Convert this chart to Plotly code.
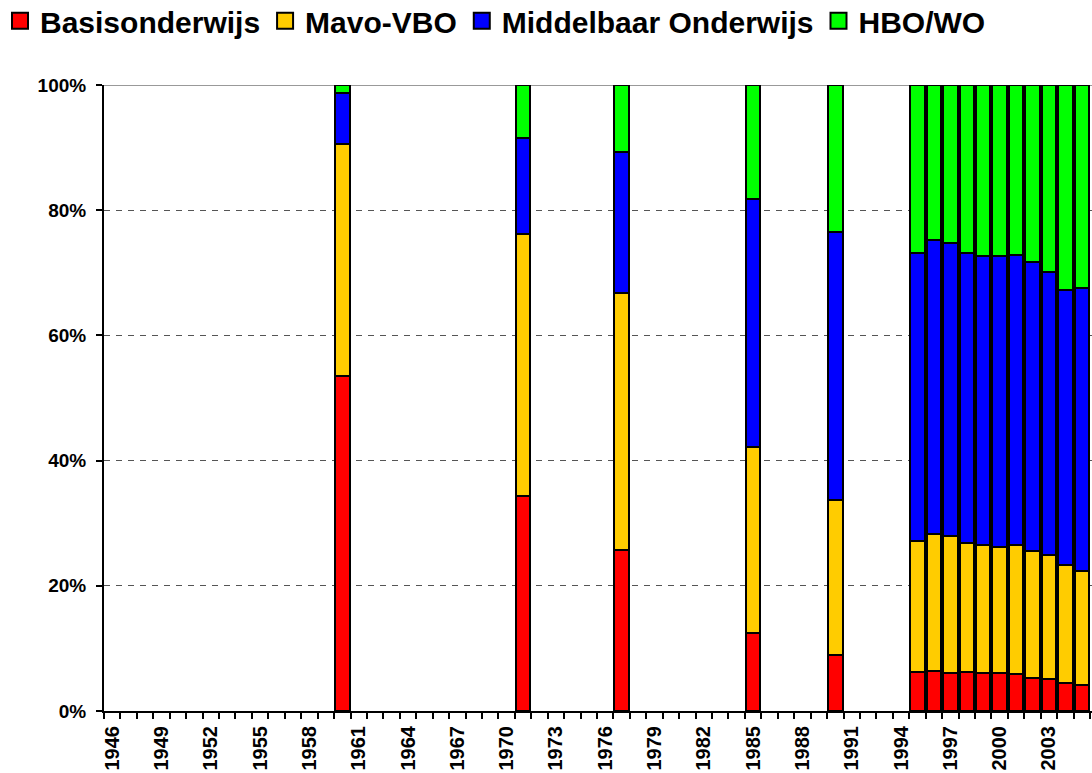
import plotly.graph_objects as go

# share per education level (% of total)
years = [1960, 1971, 1977, 1985, 1990, 1995, 1996, 1997, 1998, 1999, 2000, 2001, 2002, 2003, 2004, 2005]
basis = [53.5, 34.3, 25.7, 12.5, 8.9, 6.2, 6.4, 6.1, 6.2, 6.1, 6.0, 5.9, 5.3, 5.1, 4.4, 4.2]
mavo_vbo = [37.0, 41.9, 41.1, 29.7, 24.8, 21.0, 21.8, 21.9, 20.7, 20.4, 20.2, 20.6, 20.3, 19.8, 18.9, 18.2]
middelbaar = [8.3, 15.3, 22.5, 39.6, 42.8, 45.9, 47.0, 46.8, 46.2, 46.2, 46.5, 46.4, 46.1, 45.3, 43.9, 45.1]
hbo_wo = [1.2, 8.5, 10.7, 18.2, 23.5, 26.9, 24.8, 25.2, 26.9, 27.3, 27.3, 27.1, 28.3, 29.8, 32.8, 32.5]

names = ['Basisonderwijs', 'Mavo-VBO', 'Middelbaar Onderwijs', 'HBO/WO']
colors = ['#FF0000', '#FFCC00', '#0000FF', '#00FF00']
series = [basis, mavo_vbo, middelbaar, hbo_wo]

all_years = list(range(1946, 2006))
label_years = list(range(1946, 2006, 3))
pct_ticks = [0, 20, 40, 60, 80, 100]

FONT = 'Liberation Sans, Arial, sans-serif'

fig = go.Figure()
for name, color, vals in zip(names, colors, series):
    fig.add_trace(go.Bar(x=years, y=vals, name=name, width=0.88,
                         marker=dict(color=color, line=dict(color='black', width=2.5)),
                         showlegend=False))

# legend entries (bigger squares than the default bar swatch)
for name, color in zip(names, colors):
    fig.add_trace(go.Scatter(x=[None], y=[None], mode='markers', name=name,
                             marker=dict(symbol='square', size=16, color=color,
                                         line=dict(color='black', width=2))))

fig.update_layout(
    width=1092, height=773,
    barmode='stack', bargap=0,
    plot_bgcolor='white', paper_bgcolor='white',
    margin=dict(l=104, r=0, t=85, b=62, autoexpand=False),
    font=dict(family=FONT, color='black', weight='bold'),
    legend=dict(orientation='h', xref='container', yref='paper', x=0, y=1.144,
                xanchor='left', yanchor='top', itemsizing='trace', traceorder='normal',
                font=dict(size=30, family=FONT, weight='bold')),
)

fig.update_xaxes(
    range=[1945.5, 2005.62], automargin=False,
    tickmode='array', tickvals=label_years, ticktext=[str(y) for y in label_years],
    tickangle=-90, tickfont=dict(size=20, family=FONT, weight='bold'),
    ticks='', ticklen=0, ticklabelstandoff=5,
    minor=dict(tickmode='array', tickvals=[y - 0.5 for y in all_years] + [2005.5],
               ticks='outside', ticklen=6, tickcolor='black', tickwidth=1.5, showgrid=False),
    showline=True, linecolor='black', linewidth=2, showgrid=False, zeroline=False,
)

fig.update_yaxes(
    range=[0, 100], automargin=False,
    tickmode='array', tickvals=pct_ticks, ticktext=[f'{v}%' for v in pct_ticks],
    tickfont=dict(size=19, family=FONT, weight='bold'),
    ticks='outside', ticklen=6, tickcolor='black', tickwidth=1.5, ticklabelstandoff=6,
    showline=True, linecolor='black', linewidth=2,
    showgrid=True, gridcolor='#555555', gridwidth=1, griddash='6px,6px', zeroline=False,
)

# solid grey border line along the 100% level
fig.add_shape(type='line', xref='paper', yref='y', x0=0, x1=1, y0=100, y1=100,
              line=dict(color='#999999', width=2), layer='below')

# drop the browser's default body margin so the figure sits at the page origin
fig.write_html("out.html", config={'displayModeBar': False},
               post_script="document.body.style.margin='0';")
